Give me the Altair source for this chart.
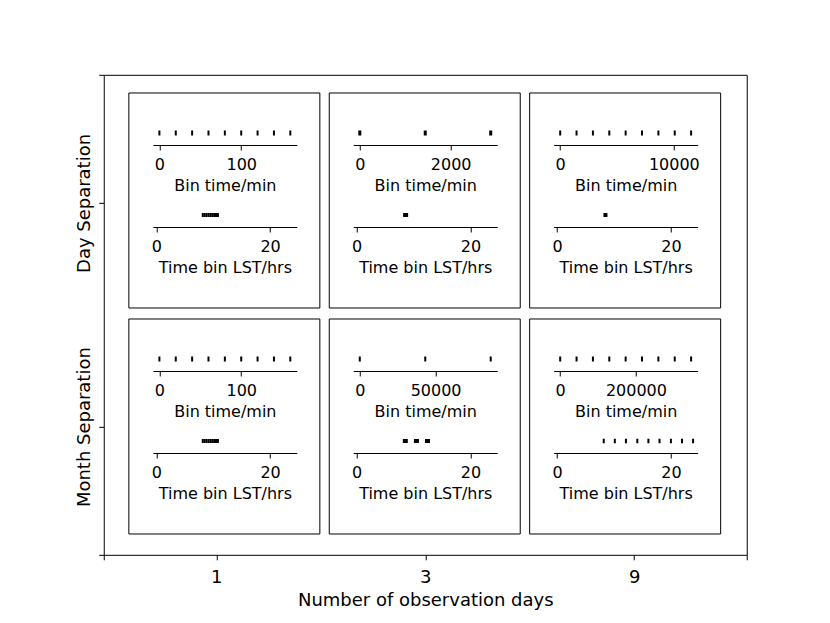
import altair as alt
import pandas as pd

# ---------------- data ----------------
days = ['1', '3', '9']
separations = ['Day Separation', 'Month Separation']
x_title = 'Number of observation days'
bin_title = 'Bin time/min'
lst_title = 'Time bin LST/hrs'

# bin start times (minutes)
bin_day_1 = [0, 20, 40, 60, 80, 100, 120, 140, 160]
bin_day_3 = [0, 1440, 2880]
bin_day_9 = [0, 1440, 2880, 4320, 5760, 7200, 8640, 10080, 11520]
bin_month_1 = [0, 20, 40, 60, 80, 100, 120, 140, 160]
bin_month_3 = [0, 43200, 86400]
bin_month_9 = [0, 43200, 86400, 129600, 172800, 216000, 259200, 302400, 345600]

# LST of the time bins (hours)
lst_day_1 = [8.17, 8.5, 8.83, 9.17, 9.5, 9.83, 10.17, 10.5, 10.83]
lst_day_3 = [8.6]
lst_day_9 = [8.5]
lst_month_1 = [8.17, 8.5, 8.83, 9.17, 9.5, 9.83, 10.17, 10.5, 10.83]
lst_month_3 = [8.55, 10.5, 12.45]
lst_month_9 = [8.2, 10.15, 12.1, 14.1, 16.05, 18.0, 20.0, 21.95, 23.9]

# tick labels
bin_ticks_day = [[0, 100], [0, 2000], [0, 10000]]
bin_ticks_month = [[0, 100], [0, 50000], [0, 200000]]
lst_ticks = [0, 20]
lst_domain = [-0.6, 24.7]

bins = [[bin_day_1, bin_day_3, bin_day_9], [bin_month_1, bin_month_3, bin_month_9]]
lsts = [[lst_day_1, lst_day_3, lst_day_9], [lst_month_1, lst_month_3, lst_month_9]]
bin_ticks = [bin_ticks_day, bin_ticks_month]

# ---------------- layout / style ----------------
W, H = 643, 480
FONT = 'DejaVu Sans'
FS_IN = 16
FS_OUT = 18
x_tick_pos = [0.175, 0.5, 0.825]
y_tick_pos = [0.733, 0.267]
panel_left = [25.1, 225.5, 425.9]
panel_top = [18.2, 244.2]
PW, PH = 191, 215
AX0, AX1 = 24, 168
TOP_LINE, BOT_LINE = 52, 134
MARK_GAP = 12
# marker (width, height) per panel: top row markers, bottom row markers
mark_top = [[(2, 5), (3, 5), (2, 5)], [(2, 5), (2, 5), (2, 5)]]
mark_bot = [[(2, 4), (5, 4), (4, 4)], [(2, 4), (5, 4), (2, 4.5)]]


def common(fs):
    return dict(grid=False, domainColor='black', domainWidth=1, tickColor='black',
                tickWidth=1, tickSize=5, labelColor='black', labelFont=FONT,
                labelFontSize=fs, titleFont=FONT, titleFontSize=fs,
                titleFontWeight='normal', titleColor='black', labelFlush=False,
                labelOverlap=False)


def label_expr(positions, labels):
    parts = [f"datum.value == {p} ? '{l}'" for p, l in zip(positions, labels)]
    return ' : '.join(parts) + " : ''"


# panel boxes in outer fraction units
rows = []
for r in range(2):
    for c in range(3):
        rows.append(dict(
            x0=panel_left[c] / W, x1=(panel_left[c] + PW) / W,
            y0=1 - panel_top[r] / H, y1=1 - (panel_top[r] + PH) / H))
box_df = pd.DataFrame(rows)

outer = alt.Chart(box_df).mark_rect(filled=False, color='black', strokeWidth=1).encode(
    x=alt.X('x0:Q', scale=alt.Scale(domain=[0, 1], nice=False, zero=False),
            axis=alt.Axis(values=[0] + x_tick_pos + [1],
                          labelExpr=label_expr(x_tick_pos, days),
                          title=x_title, labelPadding=9, titlePadding=5,
                          domain=False, **common(FS_OUT))),
    x2='x1:Q',
    y=alt.Y('y0:Q', scale=alt.Scale(domain=[0, 1], nice=False, zero=False),
            axis=alt.Axis(values=[0] + y_tick_pos + [1],
                          labelExpr=label_expr(y_tick_pos, separations),
                          title=None, labelAngle=270, labelAlign='center',
                          labelBaseline='bottom', labelPadding=5,
                          domain=False, **common(FS_OUT))),
    y2='y1:Q',
)

layers = [outer]
for r in range(2):
    for c in range(3):
        left, top = panel_left[c], panel_top[r]
        rng = [left + AX0, left + AX1]
        b = bins[r][c]
        lo, hi = min(b), max(b)
        m = 0.05 * (hi - lo)
        w, h = mark_top[r][c]
        top_layer = alt.Chart(pd.DataFrame({'v': b})).mark_tick(
            color='black', opacity=1, thickness=w, size=h).encode(
            x=alt.X('v:Q', scale=alt.Scale(domain=[lo - m, hi + m], range=rng,
                                           nice=False, zero=False),
                    axis=alt.Axis(orient='bottom', offset=top + TOP_LINE - H,
                                  values=bin_ticks[r][c], format='d',
                                  title=bin_title, labelPadding=7,
                                  titlePadding=5, **common(FS_IN))),
            y=alt.value(top + TOP_LINE - MARK_GAP))
        w, h = mark_bot[r][c]
        bot_layer = alt.Chart(pd.DataFrame({'v': lsts[r][c]})).mark_tick(
            color='black', opacity=1, thickness=w, size=h).encode(
            x=alt.X('v:Q', scale=alt.Scale(domain=lst_domain, range=rng,
                                           nice=False, zero=False),
                    axis=alt.Axis(orient='bottom', offset=top + BOT_LINE - H,
                                  values=lst_ticks, format='d',
                                  title=lst_title, labelPadding=7,
                                  titlePadding=5, **common(FS_IN))),
            y=alt.value(top + BOT_LINE - MARK_GAP))
        layers += [top_layer, bot_layer]

chart = alt.layer(*layers).resolve_scale(x='independent').resolve_axis(
    x='independent').properties(
    width=W, height=H,
    autosize=alt.AutoSizeParams(type='none'),
    padding={'left': 95.75, 'top': 66.8, 'right': 75, 'bottom': 60},
).configure_view(stroke='black', strokeWidth=1)

chart.save('out.html', embed_options={'renderer': 'svg', 'actions': False})
